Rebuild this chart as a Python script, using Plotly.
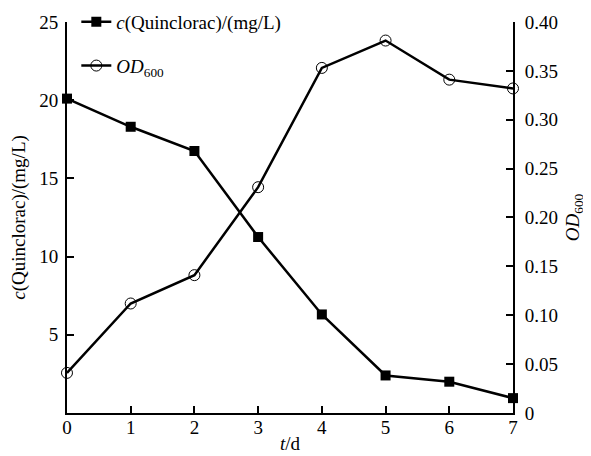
import plotly.graph_objects as go

days = [0, 1, 2, 3, 4, 5, 6, 7]
quinclorac = [20.1, 18.3, 16.75, 11.25, 6.3, 2.4, 2.0, 0.95]
od600 = [0.041, 0.112, 0.141, 0.231, 0.353, 0.381, 0.341, 0.332]

x_ticks = [0, 1, 2, 3, 4, 5, 6, 7]
left_ticks = [5, 10, 15, 20, 25]
right_ticks = [0, 0.05, 0.10, 0.15, 0.20, 0.25, 0.30, 0.35, 0.40]
right_labels = ["0", "0.05", "0.10", "0.15", "0.20", "0.25", "0.30", "0.35", "0.40"]

FONT = "Liberation Serif"
FS = 19

fig = go.Figure()
fig.add_trace(go.Scatter(
    x=days, y=quinclorac, mode="lines+markers",
    name="<i>c</i>(Quinclorac)/(mg/L)",
    line=dict(color="black", width=2.5),
    marker=dict(symbol="square", size=10, color="black"),
    legendgroup="a", cliponaxis=False,
))
fig.add_trace(go.Scatter(
    x=days, y=od600, mode="lines+markers", yaxis="y2",
    name="<i>OD</i><sub>600</sub>",
    line=dict(color="black", width=2.5),
    marker=dict(symbol="circle-open", size=11, color="black", line=dict(width=1)),
    legendgroup="b", cliponaxis=False,
))

axis_common = dict(
    showline=True, linecolor="black", linewidth=2, ticks="inside",
    ticklen=7, tickwidth=2, tickcolor="black", showgrid=False, zeroline=False,
    automargin=False,
    tickfont=dict(family=FONT, size=FS, color="black"),
)

XD = [0.0942, 0.8726]
YD = [0.0868, 0.9795]

fig.update_layout(
    width=583, height=448,
    margin=dict(l=5, r=5, t=5, b=5, autoexpand=False),
    paper_bgcolor="white", plot_bgcolor="white",
    font=dict(family=FONT, size=FS, color="black"),
    xaxis=dict(range=[0, 7], domain=XD, tickvals=x_ticks, ticklabelstandoff=-4,
               **axis_common,
               title=dict(text="<i>t</i>/d", standoff=0,
                          font=dict(family=FONT, size=FS))),
    yaxis=dict(range=[0, 25], domain=YD, tickvals=left_ticks, ticklabelstandoff=3,
               **axis_common,
               title=dict(text="<i>c</i>(Quinclorac)/(mg/L)", standoff=12,
                          font=dict(family=FONT, size=FS))),
    yaxis2=dict(range=[0, 0.40], domain=YD, tickvals=right_ticks, ticktext=right_labels,
                overlaying="y", side="right", anchor="x", ticklabelstandoff=6,
                **axis_common,
                title=dict(text="<i>OD</i><sub>600</sub>", standoff=9,
                           font=dict(family=FONT, size=FS))),
    showlegend=True,
    legend=dict(x=0.1105, y=1.0228, xanchor="left", yanchor="top",
                bgcolor="rgba(0,0,0,0)", itemwidth=30,
                tracegroupgap=16, traceorder="grouped",
                font=dict(family=FONT, size=FS)),
)

fig.write_html("out.html")
